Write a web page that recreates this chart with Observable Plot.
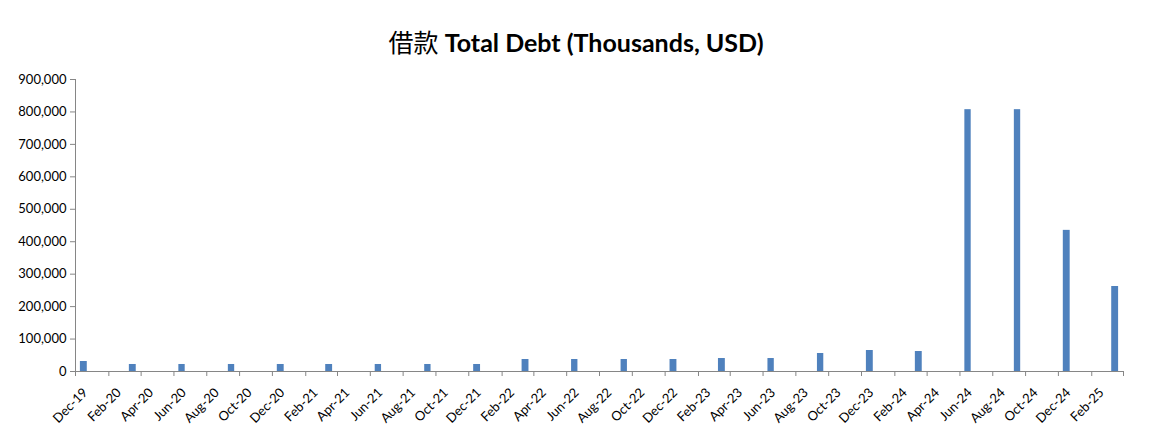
<!DOCTYPE html>
<html>
<head>
<meta charset="utf-8">
<script src="https://cdn.jsdelivr.net/npm/d3@7"></script>
<script src="https://cdn.jsdelivr.net/npm/@observablehq/plot@0.6"></script>
<style>
  html, body { margin: 0; padding: 0; background: #fff; }
  #title { height: 66px; width: 1152px; box-sizing: border-box; padding-top: 26px; text-align: center; font-size: 25px; line-height: 30px; color: #000; }
  #title .zh { font-family: "Noto Sans CJK SC", sans-serif; font-weight: 400; }
  #title .en { font-family: Lato, sans-serif; font-weight: 700; }
</style>
</head>
<body>
<div id="title"><span class="zh">借款</span> <span class="en">Total Debt (Thousands, USD)</span></div>
<div id="chart"></div>
<script>
const periods = ["Dec-19","Mar-20","Jun-20","Sep-20","Dec-20","Mar-21","Jun-21","Sep-21","Dec-21",
  "Mar-22","Jun-22","Sep-22","Dec-22","Mar-23","Jun-23","Sep-23","Dec-23","Mar-24","Jun-24","Sep-24","Dec-24","Mar-25"];
const debt = [30800, 21600, 21600, 21600, 21600, 21600, 21600, 21600, 21600,
  37000, 37000, 37000, 37000, 40000, 40000, 55500, 64700, 61600, 807000, 807000, 435000, 262000];
const yTicks = [0, 100000, 200000, 300000, 400000, 500000, 600000, 700000, 800000, 900000];
const axisStart = "Dec-19", axisEnd = "Apr-25";

const parse = d3.utcParse("%b-%y");
const fmt = d3.utcFormat("%b-%y");
const data = periods.map((p, i) => ({date: parse(p), value: debt[i]}));
const start = parse(axisStart), end = parse(axisEnd);
const xTicks = d3.utcMonth.range(start, d3.utcMonth.offset(end, 1), 2);

const plot = Plot.plot({
  width: 1152,
  height: 369,
  marginTop: 13,
  marginBottom: 64,
  marginLeft: 75,
  marginRight: 29,
  style: {fontFamily: "Lato, sans-serif", fontSize: "13px", color: "#000", background: "#fff"},
  x: {type: "utc", domain: [start, end]},
  y: {domain: [0, 900000]},
  marks: [
    Plot.rectY(data, {x: "date", y: "value", interval: d3.utcMonth, fill: "#4F81BD", insetLeft: 4.9, insetRight: 4.9}),
    Plot.ruleX([start], {stroke: "#868686"}),
    Plot.ruleY([0], {stroke: "#868686"}),
    Plot.axisY({ticks: yTicks, tickSize: 5, tickPadding: 4, stroke: "#868686", tickFormat: d => d3.format(",")(d), fill: "#000", label: null}),
    Plot.axisX({ticks: xTicks, tickSize: 5, stroke: "#868686", label: null, text: null}),
    Plot.axisX({ticks: xTicks, tickSize: 0, tickPadding: 16, dx: 10, dy: 3, tickRotate: -45, fill: "#000", label: null,
      tickFormat: d => (+d === +end ? "" : fmt(d))})
  ]
});
document.getElementById("chart").appendChild(plot);
</script>
</body>
</html>
